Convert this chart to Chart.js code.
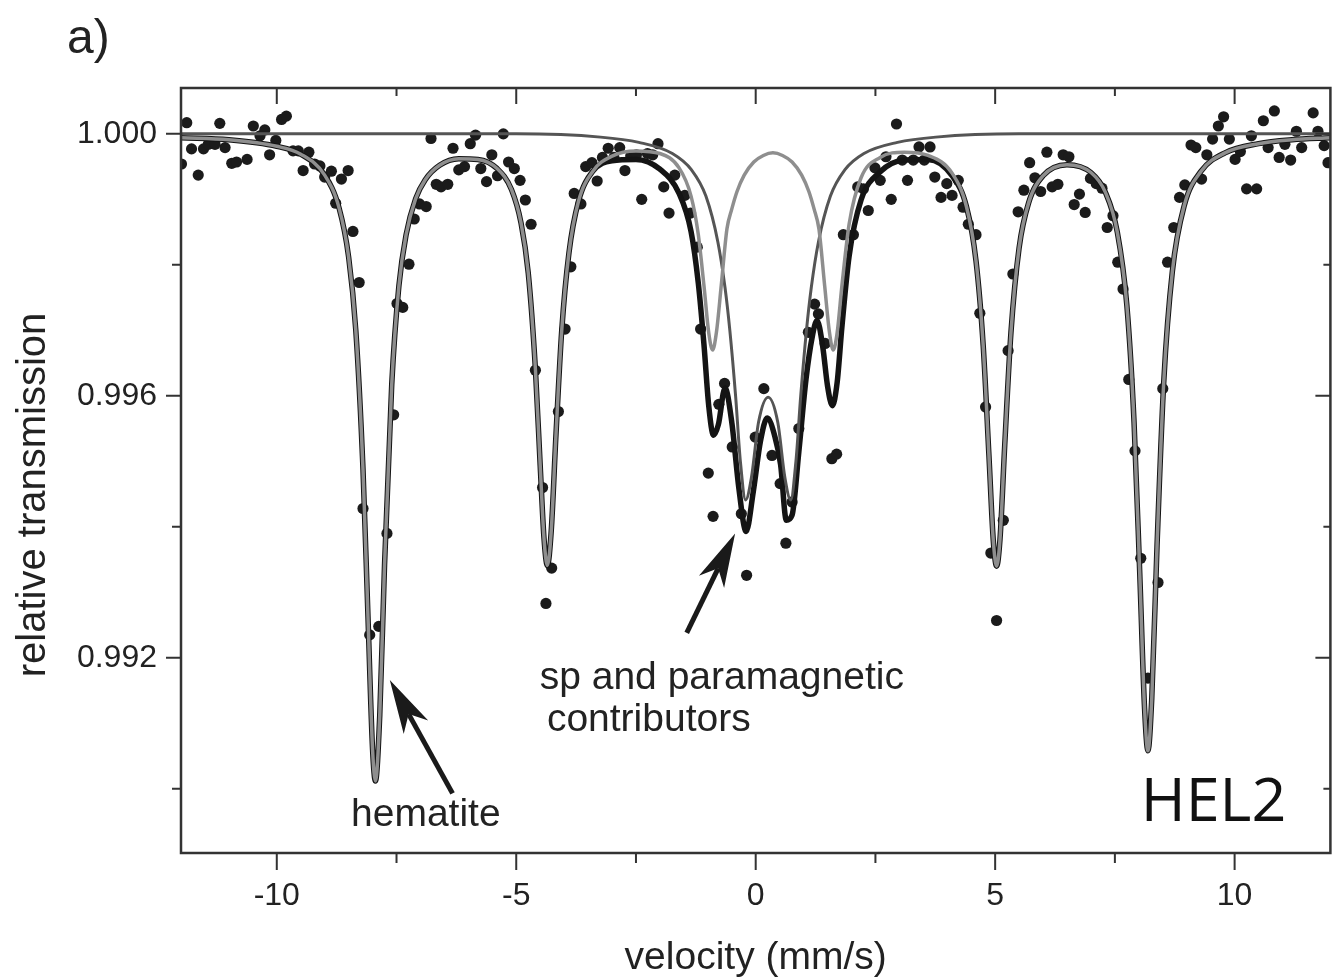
<!DOCTYPE html>
<html>
<head>
<meta charset="utf-8">
<title>HEL2 Mossbauer spectrum</title>
<script src="https://cdn.jsdelivr.net/npm/chart.js@4.4.1/dist/chart.umd.min.js"></script>
<style>
  html, body { margin: 0; padding: 0; background: #fff; }
  canvas { display: block; }
</style>
</head>
<body>
<canvas id="spectrum" width="1336" height="979"></canvas>
<script>
// measured points (velocity mm/s, relative transmission)
const dataV = [-11.99, -11.88, -11.78, -11.64, -11.53, -11.43, -11.29, -11.19, -11.08, -10.94, -10.84, -10.62, -10.49, -10.35, -10.25, -10.15, -10.02, -9.90, -9.80, -9.66, -9.55, -9.45, -9.33, -9.21, -9.10, -9.00, -8.86, -8.77, -8.65, -8.51, -8.41, -8.28, -8.20, -8.06, -7.87, -7.70, -7.56, -7.49, -7.37, -7.24, -7.13, -7.02, -6.88, -6.78, -6.67, -6.57, -6.43, -6.32, -6.20, -6.08, -5.96, -5.85, -5.74, -5.62, -5.51, -5.39, -5.27, -5.16, -5.04, -4.92, -4.81, -4.69, -4.60, -4.45, -4.38, -4.26, -4.12, -3.98, -3.86, -3.79, -3.65, -3.55, -3.42, -3.31, -3.20, -3.08, -2.96, -2.84, -2.73, -2.61, -2.49, -2.38, -2.26, -2.15, -2.04, -1.92, -1.81, -1.69, -1.48, -1.36, -1.22, -1.15, -0.99, -0.89, -0.77, -0.65, -0.49, -0.30, -0.19, -0.01, 0.17, 0.34, 0.51, 0.63, 0.76, 0.90, 1.10, 1.23, 1.31, 1.45, 1.59, 1.69, 1.83, 2.04, 2.13, 2.25, 2.35, 2.49, 2.60, 2.72, 2.83, 2.94, 3.06, 3.17, 3.29, 3.41, 3.52, 3.64, 3.74, 3.87, 3.99, 4.10, 4.23, 4.33, 4.44, 4.60, 4.68, 4.80, 4.91, 5.03, 5.17, 5.27, 5.37, 5.48, 5.60, 5.72, 5.83, 5.95, 6.08, 6.19, 6.31, 6.42, 6.54, 6.65, 6.76, 6.88, 6.99, 7.11, 7.23, 7.34, 7.46, 7.56, 7.67, 7.79, 7.92, 8.04, 8.19, 8.40, 8.50, 8.60, 8.73, 8.85, 8.96, 9.09, 9.19, 9.31, 9.42, 9.54, 9.66, 9.77, 9.89, 10.01, 10.12, 10.25, 10.35, 10.46, 10.60, 10.70, 10.83, 10.93, 11.05, 11.17, 11.29, 11.40, 11.64, 11.74, 11.87, 11.95];
const dataT = [0.99954, 1.00017, 0.99977, 0.99937, 0.99977, 0.99984, 0.99984, 1.00016, 0.99979, 0.99955, 0.99957, 0.99961, 1.00012, 0.99997, 1.00006, 0.99968, 0.99990, 1.00022, 1.00027, 0.99974, 0.99974, 0.99944, 0.99972, 0.99954, 0.99951, 0.99934, 0.99943, 0.99894, 0.99931, 0.99944, 0.99851, 0.99773, 0.99428, 0.99235, 0.99248, 0.99390, 0.99571, 0.99741, 0.99735, 0.99801, 0.99870, 0.99893, 0.99889, 0.99993, 0.99923, 0.99919, 0.99923, 0.99978, 0.99945, 0.99950, 0.99985, 0.99998, 0.99947, 0.99927, 0.99968, 0.99936, 1.00000, 0.99957, 0.99947, 0.99929, 0.99899, 0.99862, 0.99639, 0.99460, 0.99283, 0.99337, 0.99576, 0.99702, 0.99797, 0.99909, 0.99893, 0.99950, 0.99956, 0.99928, 0.99964, 0.99978, 0.99964, 0.99979, 0.99944, 0.99966, 0.99968, 0.99900, 0.99970, 0.99968, 0.99985, 0.99919, 0.99879, 0.99937, 0.99906, 0.99879, 0.99827, 0.99702, 0.99482, 0.99416, 0.99587, 0.99619, 0.99522, 0.99420, 0.99326, 0.99537, 0.99611, 0.99509, 0.99466, 0.99375, 0.99438, 0.99550, 0.99697, 0.99740, 0.99725, 0.99680, 0.99504, 0.99511, 0.99846, 0.99846, 0.99919, 0.99916, 0.99883, 0.99948, 0.99929, 0.99965, 0.99900, 1.00015, 0.99960, 0.99929, 0.99960, 0.99980, 0.99960, 0.99980, 0.99934, 0.99903, 0.99924, 0.99906, 0.99929, 0.99888, 0.99862, 0.99846, 0.99726, 0.99583, 0.99360, 0.99257, 0.99410, 0.99669, 0.99786, 0.99881, 0.99914, 0.99956, 0.99933, 0.99912, 0.99972, 0.99919, 0.99923, 0.99968, 0.99965, 0.99892, 0.99908, 0.99880, 0.99932, 0.99924, 0.99917, 0.99857, 0.99875, 0.99804, 0.99763, 0.99625, 0.99516, 0.99352, 0.99169, 0.99315, 0.99611, 0.99804, 0.99857, 0.99903, 0.99922, 0.99983, 0.99979, 0.99931, 0.99968, 0.99992, 1.00012, 1.00026, 0.99992, 0.99961, 0.99973, 0.99916, 0.99997, 0.99916, 1.00020, 0.99979, 1.00035, 0.99964, 0.99984, 0.99960, 1.00004, 0.99979, 1.00032, 1.00004, 0.99982, 0.99956];

// hematite sextet subspectrum (light grey)
const hemV = [-12, -11, -10, -9.5, -9, -8.7, -8.5, -8.35, -8.2, -8.1, -8.0, -7.94, -7.85, -7.75, -7.6, -7.45, -7.3, -7.1, -6.9, -6.6, -6.2, -5.8, -5.4, -5.1, -4.9, -4.75, -4.6, -4.5, -4.42, -4.35, -4.27, -4.17, -4.05, -3.9, -3.7, -3.4, -3.0, -2.5, -2.0, -1.6, -1.35, -1.2, -1.08, -0.98, -0.9, -0.82, -0.72, -0.6, -0.5, -0.39, -0.24, -0.04, 0.16, 0.36, 0.56, 0.76, 0.96, 1.11, 1.22, 1.32, 1.44, 1.54, 1.62, 1.7, 1.8, 1.95, 2.2, 2.6, 3.1, 3.6, 4.1, 4.4, 4.6, 4.75, 4.87, 4.96, 5.03, 5.1, 5.2, 5.33, 5.5, 5.7, 6.0, 6.5, 7.0, 7.3, 7.55, 7.75, 7.9, 8.02, 8.12, 8.19, 8.27, 8.38, 8.52, 8.7, 8.95, 9.3, 9.8, 10.5, 11.2, 12];
const hemT = [0.99994, 0.99991, 0.99981, 0.99969, 0.99937, 0.99887, 0.99812, 0.99700, 0.99488, 0.99272, 0.99060, 0.99012, 0.99112, 0.99342, 0.99617, 0.99768, 0.99846, 0.99901, 0.99930, 0.99952, 0.99962, 0.99961, 0.99947, 0.99915, 0.99864, 0.99788, 0.99641, 0.99494, 0.99382, 0.99341, 0.99393, 0.99541, 0.99700, 0.99818, 0.99897, 0.99943, 0.99966, 0.99974, 0.99970, 0.99948, 0.99905, 0.99847, 0.99768, 0.99696, 0.99670, 0.99697, 0.99768, 0.99855, 0.99885, 0.99912, 0.99937, 0.99957, 0.99967, 0.99971, 0.99967, 0.99957, 0.99937, 0.99912, 0.99885, 0.99855, 0.99768, 0.99697, 0.99670, 0.99696, 0.99768, 0.99862, 0.99933, 0.99964, 0.99972, 0.99967, 0.99940, 0.99889, 0.99806, 0.99677, 0.99509, 0.99380, 0.99340, 0.99380, 0.99525, 0.99697, 0.99826, 0.99895, 0.99936, 0.99953, 0.99941, 0.99911, 0.99850, 0.99738, 0.99560, 0.99327, 0.99122, 0.99058, 0.99138, 0.99371, 0.99621, 0.99790, 0.99891, 0.99943, 0.99971, 0.99985, 0.99991, 0.99994];

// paramagnetic doublet (dark grey)
const dubV = [-12, -5, -3.24, -2.44, -1.74, -1.34, -1.04, -0.79, -0.64, -0.54, -0.42, -0.32, -0.21, -0.09, 0.06, 0.26, 0.46, 0.61, 0.73, 0.84, 0.94, 1.06, 1.16, 1.31, 1.56, 1.86, 2.26, 2.96, 3.76, 5.5, 12];
const dubT = [1.0, 1.0, 0.99995, 0.99987, 0.99970, 0.99945, 0.99905, 0.99835, 0.99765, 0.99700, 0.99600, 0.99500, 0.99441, 0.99475, 0.99560, 0.99598, 0.99560, 0.99475, 0.99441, 0.99500, 0.99600, 0.99700, 0.99765, 0.99835, 0.99905, 0.99945, 0.99970, 0.99987, 0.99995, 1.0, 1.0];

// total fit (black)
const fitV = [-12, -11, -10, -9.5, -9, -8.7, -8.5, -8.35, -8.2, -8.1, -8.0, -7.94, -7.85, -7.75, -7.6, -7.45, -7.3, -7.1, -6.9, -6.6, -6.2, -5.8, -5.4, -5.1, -4.9, -4.75, -4.6, -4.5, -4.42, -4.35, -4.27, -4.17, -4.05, -3.9, -3.7, -3.4, -3.0, -2.5, -2.0, -1.6, -1.35, -1.2, -1.08, -0.98, -0.88, -0.78, -0.64, -0.5, -0.35, -0.2, -0.05, 0.1, 0.24, 0.4, 0.52, 0.64, 0.76, 0.9, 1.05, 1.18, 1.28, 1.4, 1.5, 1.6, 1.7, 1.8, 1.95, 2.2, 2.6, 3.1, 3.6, 4.1, 4.4, 4.6, 4.75, 4.87, 4.96, 5.03, 5.1, 5.2, 5.33, 5.5, 5.7, 6.0, 6.5, 7.0, 7.3, 7.55, 7.75, 7.9, 8.02, 8.12, 8.19, 8.27, 8.38, 8.52, 8.7, 8.95, 9.3, 9.8, 10.5, 11.2, 12];
const fitT = [0.99994, 0.99991, 0.99981, 0.99969, 0.99937, 0.99887, 0.99812, 0.99700, 0.99488, 0.99272, 0.99060, 0.99012, 0.99112, 0.99342, 0.99617, 0.99768, 0.99846, 0.99901, 0.99930, 0.99952, 0.99962, 0.99961, 0.99947, 0.99915, 0.99864, 0.99788, 0.99641, 0.99494, 0.99382, 0.99341, 0.99393, 0.99541, 0.99700, 0.99818, 0.99897, 0.99943, 0.99959, 0.99961, 0.99946, 0.99909, 0.99851, 0.99773, 0.99678, 0.99584, 0.99540, 0.99556, 0.99612, 0.99560, 0.99458, 0.99393, 0.99454, 0.99531, 0.99566, 0.99538, 0.99495, 0.99410, 0.99418, 0.99514, 0.99625, 0.99690, 0.99715, 0.99675, 0.99615, 0.99585, 0.99620, 0.99705, 0.99813, 0.99899, 0.99942, 0.99960, 0.99961, 0.99936, 0.99889, 0.99806, 0.99677, 0.99509, 0.99380, 0.99340, 0.99380, 0.99525, 0.99697, 0.99826, 0.99895, 0.99936, 0.99953, 0.99941, 0.99911, 0.99850, 0.99738, 0.99560, 0.99327, 0.99122, 0.99058, 0.99138, 0.99371, 0.99621, 0.99790, 0.99891, 0.99943, 0.99971, 0.99985, 0.99991, 0.99994];

// axis ticks
const xTicks = [-10, -7.5, -5, -2.5, 0, 2.5, 5, 7.5, 10];
const yTicks = [0.990, 0.992, 0.994, 0.996, 0.998, 1.000];
const yLabels = [0.992, 0.996, 1.000];

// annotation anchors in data units
const hemArrow = { from: [-6.33, 0.98993], to: [-7.64, 0.99166] };
const spArrow = { from: [-1.44, 0.99238], to: [-0.43, 0.99390] };

const FONT = '"Liberation Sans", Arial, Helvetica, sans-serif';
const pts = (vs, ts) => vs.map((v, i) => ({ x: v, y: ts[i] }));
const isLabelY = v => yLabels.some(l => Math.abs(l - v) < 1e-7);

function arrow(ctx, x0, y0, x1, y1) {
  const len = Math.hypot(x1 - x0, y1 - y0);
  const ux = (x1 - x0) / len, uy = (y1 - y0) / len;
  const nx = -uy, ny = ux, hl = 54, hw = 14;
  const bx = x1 - ux * hl, by = y1 - uy * hl;
  const mx = x1 - ux * hl * 0.72, my = y1 - uy * hl * 0.72;
  ctx.lineWidth = 5;
  ctx.beginPath();
  ctx.moveTo(x0, y0);
  ctx.lineTo(mx, my);
  ctx.stroke();
  ctx.beginPath();
  ctx.moveTo(x1, y1);
  ctx.lineTo(bx + nx * hw, by + ny * hw);
  ctx.lineTo(mx, my);
  ctx.lineTo(bx - nx * hw, by - ny * hw);
  ctx.closePath();
  ctx.fill();
}

const decor = {
  id: 'decor',
  afterDatasetsDraw(chart) {
    const { ctx, chartArea: a, scales: { x, y } } = chart;
    ctx.save();
    ctx.strokeStyle = '#333';
    ctx.lineWidth = 2.5;
    ctx.strokeRect(a.left, a.top, a.right - a.left, a.bottom - a.top);

    ctx.lineWidth = 2;
    ctx.beginPath();
    xTicks.forEach(v => {
      const px = x.getPixelForValue(v), major = v % 5 === 0;
      ctx.moveTo(px, a.bottom); ctx.lineTo(px, a.bottom + (major ? 17 : 10));
      ctx.moveTo(px, a.top); ctx.lineTo(px, a.top + (major ? 16 : 8));
    });
    yTicks.forEach(v => {
      const py = y.getPixelForValue(v), major = isLabelY(v);
      ctx.moveTo(a.left - (major ? 15 : 9), py); ctx.lineTo(a.left, py);
      ctx.moveTo(a.right - (major ? 15 : 7), py); ctx.lineTo(a.right, py);
    });
    ctx.stroke();

    // arrows
    ctx.strokeStyle = '#1a1a1a';
    ctx.fillStyle = '#1a1a1a';
    [hemArrow, spArrow].forEach(ar => {
      arrow(ctx, x.getPixelForValue(ar.from[0]), y.getPixelForValue(ar.from[1]),
        x.getPixelForValue(ar.to[0]), y.getPixelForValue(ar.to[1]));
    });

    // annotations
    ctx.fillStyle = '#222';
    ctx.textBaseline = 'alphabetic';
    ctx.textAlign = 'left';
    ctx.font = '39px ' + FONT;
    ctx.fillText('hematite', x.getPixelForValue(-8.45), y.getPixelForValue(0.98943));
    ctx.fillText('sp and paramagnetic', x.getPixelForValue(-4.51), y.getPixelForValue(0.99152));
    ctx.fillText('contributors', x.getPixelForValue(-4.36), y.getPixelForValue(0.99088));
    ctx.fillStyle = '#111';
    ctx.font = '61px "Open Sans", ' + FONT;
    ctx.fillText('HEL2', x.getPixelForValue(8.04), y.getPixelForValue(0.98951));

    // axis titles and panel letter
    ctx.fillStyle = '#222';
    ctx.font = '39px ' + FONT;
    ctx.textAlign = 'center';
    ctx.fillText('velocity (mm/s)', (a.left + a.right) / 2, 969);
    ctx.save();
    ctx.translate(45, 495);
    ctx.rotate(-Math.PI / 2);
    ctx.font = '40px ' + FONT;
    ctx.fillText('relative transmission', 0, 0);
    ctx.restore();
    ctx.textAlign = 'left';
    ctx.font = '48px ' + FONT;
    ctx.fillText('a)', 67, 53);
    ctx.restore();
  }
};

const ctx = document.getElementById('spectrum');
new Chart(ctx, {
  type: 'scatter',
  data: {
    datasets: [
      {
        label: 'hematite',
        data: pts(hemV, hemT),
        showLine: true,
        borderColor: '#8e8e8e',
        borderWidth: 3.5,
        pointRadius: 0,
        cubicInterpolationMode: 'monotone',
        order: 0
      },
      {
        label: 'doublet',
        data: pts(dubV, dubT),
        showLine: true,
        borderColor: '#555',
        borderWidth: 3,
        pointRadius: 0,
        cubicInterpolationMode: 'monotone',
        order: 1
      },
      {
        label: 'fit',
        data: pts(fitV, fitT),
        showLine: true,
        borderColor: '#141414',
        borderWidth: 5.5,
        pointRadius: 0,
        cubicInterpolationMode: 'monotone',
        order: 2
      },
      {
        label: 'data',
        data: pts(dataV, dataT),
        pointRadius: 5.6,
        pointBackgroundColor: '#1b1b1b',
        pointBorderWidth: 0,
        clip: 0,
        order: 3
      }
    ]
  },
  options: {
    responsive: false,
    devicePixelRatio: 1,
    animation: false,
    layout: { padding: { top: 88, right: 4, left: 0, bottom: 0 } },
    plugins: { legend: { display: false }, tooltip: { enabled: false } },
    scales: {
      x: {
        type: 'linear',
        min: -12,
        max: 12,
        afterBuildTicks: s => { s.ticks = xTicks.map(v => ({ value: v })); },
        afterFit: s => { s.height = 126; },
        grid: { display: false, drawTicks: false },
        border: { display: false },
        ticks: {
          autoSkip: false,
          maxRotation: 0,
          padding: 24,
          color: '#222',
          font: { family: FONT, size: 32 },
          callback: v => (v % 5 === 0 ? String(v) : '')
        }
      },
      y: {
        type: 'linear',
        min: 0.98902,
        max: 1.0007,
        afterBuildTicks: s => { s.ticks = yTicks.map(v => ({ value: v })); },
        afterFit: s => { s.width = 181; },
        grid: { display: false, drawTicks: false },
        border: { display: false },
        ticks: {
          autoSkip: false,
          padding: 24,
          color: '#222',
          font: { family: FONT, size: 32 },
          callback: v => (isLabelY(v) ? v.toFixed(3) : '')
        }
      }
    }
  },
  plugins: [decor]
});
</script>
</body>
</html>
